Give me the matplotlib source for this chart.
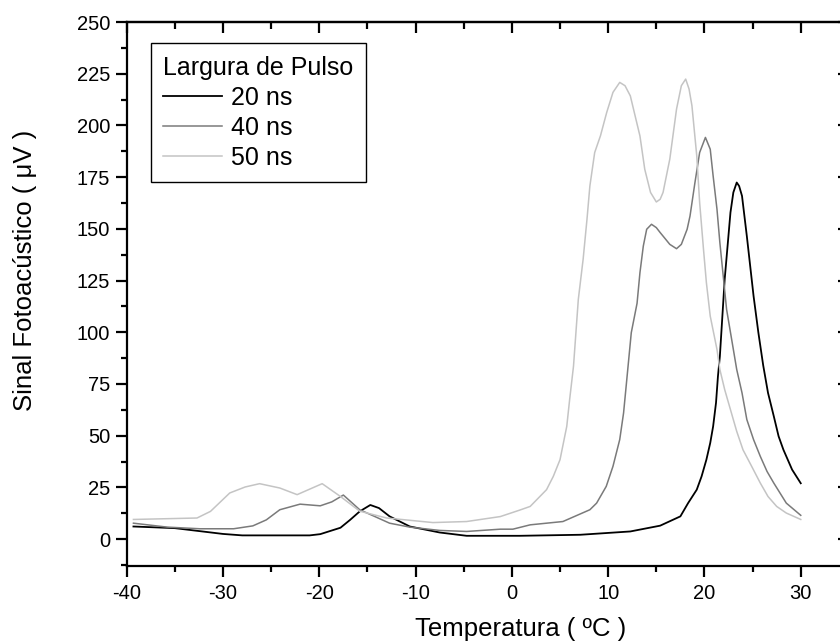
import matplotlib
matplotlib.use('Agg')
from matplotlib import pyplot as plt
from matplotlib.ticker import MultipleLocator

plt.rcParams['font.family'] = ['Liberation Sans', 'DejaVu Sans']
plt.rcParams['axes.unicode_minus'] = False

# 20 ns pulse width
t20 = [-39.3, -35.0, -30.0, -28.0, -24.0, -21.0, -19.9, -17.8, -16.8, -15.8, -14.7,
       -13.8, -12.7, -10.6, -7.5, -4.7, 0.8, 7.1, 12.3, 15.4, 17.5, 18.3, 19.2, 19.7,
       20.2, 20.6, 20.9, 21.2, 21.4, 21.6, 22.1, 22.4, 22.7, 23.0, 23.35, 23.6, 23.9,
       24.4, 25.1, 25.6, 26.1, 26.6, 27.2, 27.7, 28.2, 29.1, 30.0]
s20 = [6.1, 5.3, 2.5, 1.8, 1.8, 1.8, 2.4, 5.5, 9.3, 13.4, 16.5,
       15.0, 11.0, 6.1, 3.2, 1.6, 1.6, 2.1, 3.7, 6.5, 11.0, 17.4, 23.9, 30.3,
       38.4, 46.5, 54.5, 65.9, 78.7, 88.4, 125.6, 141.7, 157.9, 167.6, 172.4, 170.7, 165.9,
       146.5, 117.5, 99.8, 84.0, 70.7, 59.4, 49.7, 43.2, 33.6, 27.0]

# 40 ns pulse width
t40 = [-39.3, -35.8, -32.4, -28.9, -26.9, -25.5, -24.1, -22.0, -19.9, -18.7, -17.5,
       -15.8, -12.7, -10.6, -7.5, -4.7, -1.2, 0.1, 1.9, 5.3, 8.1, 8.8, 9.8, 10.5,
       11.2, 11.6, 11.9, 12.4, 13.0, 13.3, 13.65, 14.0, 14.5, 15.0, 15.4, 15.7, 16.4,
       17.1, 17.6, 18.2, 18.5, 19.0, 19.5, 20.1, 20.6, 20.9, 21.3, 21.6, 22.3, 23.0,
       23.35, 23.9, 24.4, 25.1, 25.8, 26.5, 27.2, 28.5, 30.0]
s40 = [7.7, 5.8, 5.0, 5.0, 6.4, 9.3, 14.2, 16.9, 16.1, 18.0, 21.3,
       14.2, 7.7, 5.8, 4.2, 3.7, 4.8, 4.8, 6.9, 8.5, 14.2, 17.4, 25.5, 35.2,
       48.1, 61.0, 75.5, 99.8, 114.0, 128.8, 141.7, 149.8, 152.2, 150.6, 148.2, 146.5, 142.5,
       140.4, 142.5, 149.8, 156.2, 172.0, 186.9, 194.2, 188.5, 175.6, 159.5, 143.3, 111.0, 91.7,
       82.0, 70.7, 57.8, 48.1, 40.0, 32.7, 27.1, 17.4, 11.5]

# 50 ns pulse width
t50 = [-39.3, -32.7, -31.3, -29.3, -27.7, -26.2, -24.1, -22.3, -19.7, -17.8, -15.8,
       -13.0, -8.2, -4.7, -1.2, 0.8, 1.9, 3.6, 4.3, 5.0, 5.7, 6.0, 6.4, 6.9,
       7.4, 7.8, 8.1, 8.6, 9.2, 9.85, 10.5, 11.2, 11.75, 12.3, 12.8, 13.3, 13.8,
       14.4, 15.0, 15.4, 15.7, 16.4, 17.1, 17.6, 18.05, 18.4, 18.7, 19.2, 19.5, 19.9,
       20.2, 20.6, 21.3, 21.6, 22.1, 22.7, 23.35, 24.0, 24.9, 25.8, 26.6, 27.5, 28.5, 30.0]
s50 = [9.5, 10.2, 13.4, 22.3, 25.2, 26.8, 24.7, 21.5, 26.8, 20.6, 13.5,
       10.2, 8.0, 8.5, 10.9, 14.0, 15.8, 23.9, 30.3, 38.4, 54.5, 67.5, 83.6, 115.9,
       135.3, 154.6, 170.7, 186.9, 195.0, 206.3, 216.0, 220.8, 219.2, 214.3, 204.6, 194.9, 178.8,
       167.6, 163.0, 164.3, 167.6, 183.7, 207.9, 219.2, 222.4, 217.6, 209.5, 185.3, 162.7, 140.1,
       124.0, 107.8, 91.7, 82.0, 72.3, 62.6, 52.1, 43.2, 35.2, 27.1, 20.6, 15.8, 12.6, 9.5]

fig = plt.figure(figsize=(8.4, 6.43), dpi=100)
ax = fig.add_axes([126.7 / 840, 1 - 566 / 643, 722.2 / 840, 544 / 643])

ax.plot(t20, s20, color='#000000', lw=1.3, label='20 ns')
ax.plot(t40, s40, color='#7a7a7a', lw=1.1, label='40 ns')
ax.plot(t50, s50, color='#c4c4c4', lw=1.1, label='50 ns')

ax.set_xlim(-40, 35)
ax.set_ylim(-13, 250)
ax.xaxis.set_major_locator(MultipleLocator(10))
ax.xaxis.set_minor_locator(MultipleLocator(5))
ax.yaxis.set_major_locator(MultipleLocator(25))
ax.yaxis.set_minor_locator(MultipleLocator(12.5))
ax.set_xticks([-40, -30, -20, -10, 0, 10, 20, 30])

for s in ax.spines.values():
    s.set_linewidth(1.6)

ax.tick_params(axis='x', which='major', direction='out', length=8, width=1.6, labelsize=14.5, pad=5)
ax.tick_params(axis='y', which='major', direction='out', length=8, width=1.6, labelsize=14.5, pad=4)
ax.tick_params(which='minor', direction='out', length=4.5, width=1.6)

# top and right ticks point inward
top = ax.secondary_xaxis('top')
top.xaxis.set_major_locator(MultipleLocator(10))
top.xaxis.set_minor_locator(MultipleLocator(5))
top.tick_params(which='major', direction='in', length=8, width=1.6, labeltop=False)
top.tick_params(which='minor', direction='in', length=5, width=1.6)
right = ax.secondary_yaxis('right')
right.yaxis.set_major_locator(MultipleLocator(25))
right.tick_params(which='major', direction='in', length=8, width=1.6, labelright=False)
for sa in (top, right):
    for s in sa.spines.values():
        s.set_linewidth(1.6)

ax.set_xlabel('Temperatura ( ºC )', fontsize=18.5, va='center')
ax.xaxis.set_label_coords(0.545, -0.116)
ax.set_ylabel('Sinal Fotoacústico ( μV )', fontsize=18.5, va='center')
ax.yaxis.set_label_coords(-0.141, 0.544)

leg = ax.legend(title='Largura de Pulso', loc='upper left',
                bbox_to_anchor=(0.0336, 0.961), borderaxespad=0,
                fontsize=18, title_fontsize=18, alignment='left',
                fancybox=False, edgecolor='black', framealpha=1,
                handlelength=2.36, handletextpad=0.36, labelspacing=0.24,
                borderpad=0.5)
leg.get_frame().set_linewidth(1.0)

plt.savefig('out.png', dpi=100)
